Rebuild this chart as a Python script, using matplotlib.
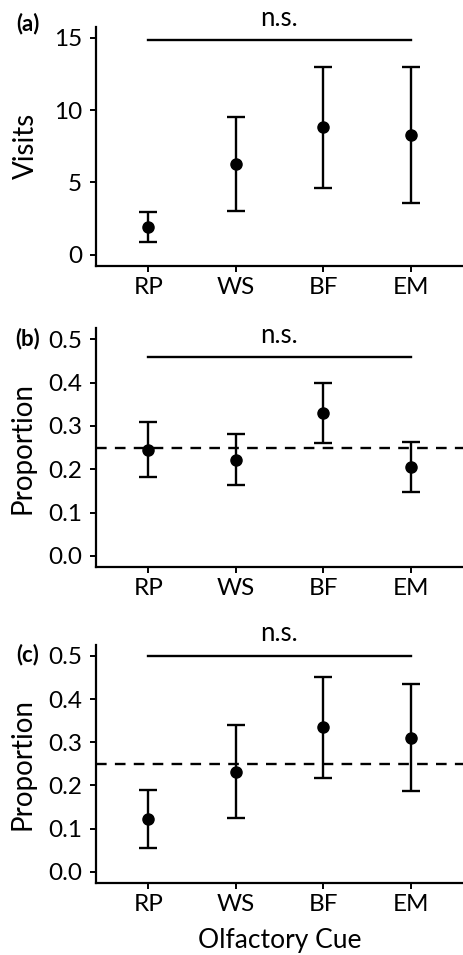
import matplotlib
matplotlib.use("Agg")
import matplotlib.pyplot as plt
import numpy as np

plt.rcParams['font.family'] = ['Lato', 'DejaVu Sans']

categories = ["RP", "WS", "BF", "EM"]

# Panel (a): visits
a_mean = [1.91, 6.24, 8.80, 8.25]
a_low = [0.85, 3.02, 4.63, 3.57]
a_high = [2.97, 9.52, 12.97, 12.97]

# Panel (b): proportion
b_mean = [0.244, 0.221, 0.329, 0.205]
b_low = [0.182, 0.164, 0.261, 0.147]
b_high = [0.308, 0.281, 0.400, 0.262]

# Panel (c): proportion
c_mean = [0.123, 0.231, 0.335, 0.310]
c_low = [0.055, 0.124, 0.218, 0.187]
c_high = [0.190, 0.339, 0.452, 0.434]

panel_labels = ["(a)", "(b)", "(c)"]
ylabels = ["Visits", "Proportion", "Proportion"]
yticks_list = [[0, 5, 10, 15], [0.0, 0.1, 0.2, 0.3, 0.4, 0.5], [0.0, 0.1, 0.2, 0.3, 0.4, 0.5]]
ytick_labels = [["0", "5", "10", "15"],
                ["0.0", "0.1", "0.2", "0.3", "0.4", "0.5"],
                ["0.0", "0.1", "0.2", "0.3", "0.4", "0.5"]]
ylims = [(-0.78, 15.76), (-0.025, 0.525), (-0.025, 0.525)]
ns_level = [14.85, 0.459, 0.500]
ns_text_y = [16.35, 0.509, 0.552]
chance = [None, 0.25, 0.25]

fig = plt.figure(figsize=(4.63, 9.55), dpi=100)
axes_rects = [
    [0.207, 0.7215, 0.793, 0.2505],
    [0.207, 0.4066, 0.793, 0.2496],
    [0.207, 0.0757, 0.793, 0.2489],
]
label_pos_px = [(28, 24), (28, 339), (28, 655)]
ylabel_x_px = [38.5, 35, 35]

data = [(a_mean, a_low, a_high), (b_mean, b_low, b_high), (c_mean, c_low, c_high)]
x = np.arange(1, len(categories) + 1)

for i, rect in enumerate(axes_rects):
    ax = fig.add_axes(rect)
    m, lo, hi = data[i]
    m = np.array(m); lo = np.array(lo); hi = np.array(hi)
    if chance[i] is not None:
        ax.axhline(chance[i], color='black', lw=1.7, ls=(0, (4.5, 3.5)), zorder=1)
    ax.errorbar(x, m, yerr=[m - lo, hi - m], fmt='o', color='black',
                ms=8, elinewidth=1.7, capsize=6.5, capthick=1.7, zorder=3)
    ax.plot([x[0], x[-1]], [ns_level[i], ns_level[i]], color='black', lw=1.7,
            clip_on=False, zorder=2)
    ax.text((x[0] + x[-1]) / 2, ns_text_y[i], "n.s.", ha='center', va='center',
            fontsize=18.5, clip_on=False)
    ax.set_xlim(0.4, 4.6)
    ax.set_ylim(*ylims[i])
    ax.set_xticks(x)
    ax.set_xticklabels(categories)
    ax.set_yticks(yticks_list[i])
    ax.set_yticklabels(ytick_labels[i])
    ax.tick_params(axis='both', labelsize=17.5, length=4, width=1.4,
                   colors='black')
    ax.tick_params(axis='y', pad=6)
    ax.tick_params(axis='x', pad=4)
    for s in ['top', 'right']:
        ax.spines[s].set_visible(False)
    for s in ['left', 'bottom']:
        ax.spines[s].set_linewidth(1.6)
    ax.set_ylabel(ylabels[i], fontsize=20)
    ax.yaxis.set_label_coords(ylabel_x_px[i] / 463, rect[1] + rect[3] / 2,
                              transform=fig.transFigure)
    ax.set_facecolor('white')
    px, py = label_pos_px[i]
    fig.text(px / 463, 1 - py / 955, panel_labels[i], fontsize=16,
             fontweight='bold', ha='center', va='center')

fig.text(0.207 + 0.793 * (2.5 - 0.4) / 4.2, 1 - 940 / 955, "Olfactory Cue",
         fontsize=19, ha='center', va='center')

fig.savefig("out.png", dpi=100, facecolor='white')
